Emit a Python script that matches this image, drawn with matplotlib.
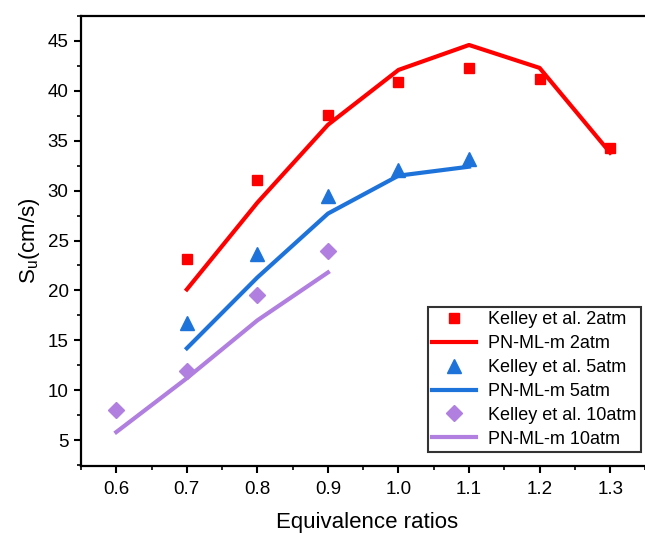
import numpy as np
import matplotlib
matplotlib.use("Agg")
import matplotlib.pyplot as plt
from matplotlib.ticker import MultipleLocator, FormatStrFormatter

plt.rcParams["font.family"] = ["Liberation Sans", "DejaVu Sans"]

phi_2 = [0.7, 0.8, 0.9, 1.0, 1.1, 1.2, 1.3]
exp_2 = [23.1, 31.1, 37.6, 40.9, 42.3, 41.2, 34.3]
model_2 = [20.1, 28.8, 36.6, 42.1, 44.6, 42.3, 33.8]

phi_5 = [0.7, 0.8, 0.9, 1.0, 1.1]
exp_5 = [16.7, 23.6, 29.5, 32.1, 33.2]
model_5 = [14.2, 21.3, 27.7, 31.5, 32.4]

phi_10 = [0.6, 0.7, 0.8, 0.9]
exp_10 = [8.0, 11.9, 19.5, 23.9]
model_10 = [5.8, 11.2, 17.0, 21.8]

red = "#FF0000"
blue = "#1E73DA"
purple = "#B07FDF"

fig = plt.figure(figsize=(6.45, 5.35), dpi=100)
ax = fig.add_axes([0.1256, 0.129, 0.886, 0.841])

ax.plot(phi_2, exp_2, "s", color=red, ms=7.5, label="Kelley et al. 2atm")
ax.plot(phi_2, model_2, "-", color=red, lw=3, label="PN-ML-m 2atm")
ax.plot(phi_5, exp_5, "^", color=blue, ms=10, label="Kelley et al. 5atm")
ax.plot(phi_5, model_5, "-", color=blue, lw=3, label="PN-ML-m 5atm")
ax.plot(phi_10, exp_10, "D", color=purple, ms=8, label="Kelley et al. 10atm")
ax.plot(phi_10, model_10, "-", color=purple, lw=3, label="PN-ML-m 10atm")

ax.set_xlim(0.55, 1.36)
ax.set_ylim(2.4, 47.5)
ax.xaxis.set_major_locator(MultipleLocator(0.1))
ax.xaxis.set_minor_locator(MultipleLocator(0.05))
ax.yaxis.set_major_locator(MultipleLocator(5))
ax.yaxis.set_minor_locator(MultipleLocator(2.5))
ax.xaxis.set_major_formatter(FormatStrFormatter("%.1f"))

for s in ax.spines.values():
    s.set_linewidth(1.6)
ax.tick_params(which="major", direction="out", length=5, width=1.5,
               labelsize=13.5, pad=4)
ax.tick_params(axis="x", which="major", pad=6)
ax.tick_params(which="minor", direction="out", length=3, width=1.2)

ax.set_xlabel("Equivalence ratios", fontsize=16, labelpad=10)
ax.set_ylabel(r"S$_\mathregular{u}$(cm/s)", fontsize=16, labelpad=4)

leg = ax.legend(loc="lower right", bbox_to_anchor=(0.994, 0.155),
                bbox_transform=fig.transFigure, borderaxespad=0,
                fontsize=13, frameon=True, fancybox=False,
                edgecolor="black", handlelength=2.4, borderpad=0.25,
                labelspacing=0.38, handletextpad=0.7)
leg.get_frame().set_linewidth(1.5)

fig.savefig("out.png", dpi=100)
